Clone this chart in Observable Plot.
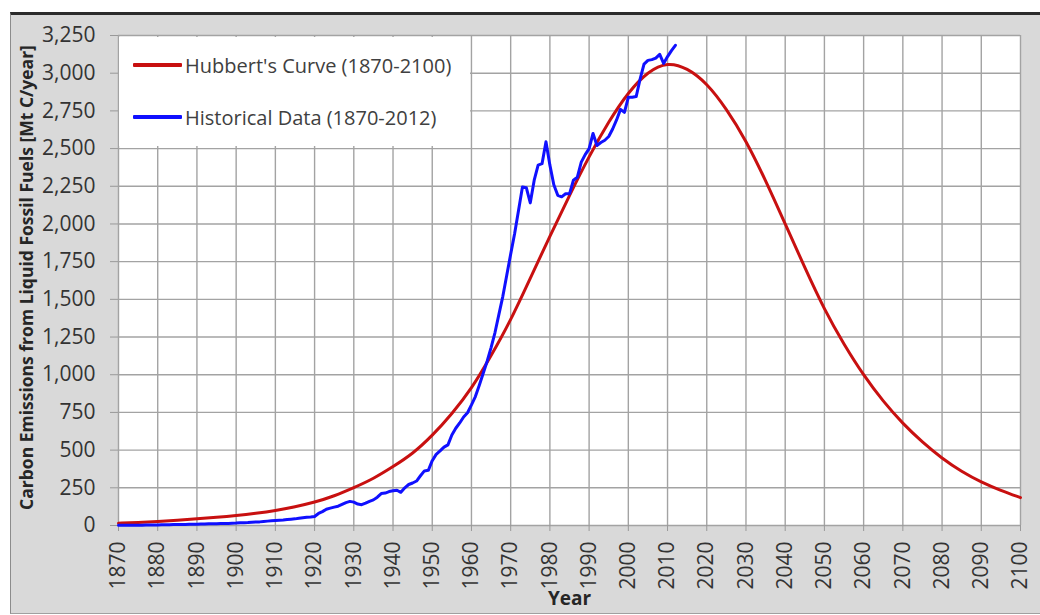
<!DOCTYPE html>
<html><head><meta charset="utf-8">
<script src="https://cdn.jsdelivr.net/npm/d3@7"></script>
<script src="https://cdn.jsdelivr.net/npm/@observablehq/plot@0.6"></script>
<style>
body{margin:0;background:#fff;width:1040px;height:615px;overflow:hidden;position:relative;font-family:"Open Sans",sans-serif;}
#frame{position:absolute;left:10px;top:12px;width:1030px;height:602px;background:#d9d9d9;border-top:3px solid #2b2b2b;border-left:1px solid #8c8c8c;border-bottom:1px solid #a0a0a0;box-sizing:border-box;}
#chart{position:absolute;left:0;top:0;}
#legend{position:absolute;left:119px;top:37px;width:351px;height:109px;background:#fff;}
.item{position:absolute;left:14px;height:24px;display:flex;align-items:center;font-size:20px;color:#404040;white-space:nowrap;}
.sw{width:49px;height:3.5px;margin-right:3px;border-radius:1px;}
</style></head><body>
<div id="frame"></div>
<div id="chart"></div>
<div id="legend">
  <div class="item" style="top:16px"><span class="sw" style="background:#c81010"></span><span id="l1"></span></div>
  <div class="item" style="top:68px"><span class="sw" style="background:#1010ff"></span><span id="l2"></span></div>
</div>
<script>
const seriesNames = ["Hubbert's Curve (1870-2100)", "Historical Data (1870-2012)"];
const xTicks = [1870,1880,1890,1900,1910,1920,1930,1940,1950,1960,1970,1980,1990,2000,2010,2020,2030,2040,2050,2060,2070,2080,2090,2100];
const yTicks = [0,250,500,750,1000,1250,1500,1750,2000,2250,2500,2750,3000,3250];
const yLabel = "Carbon Emissions from Liquid Fossil Fuels [Mt C/year]";
const xLabel = "Year";

const hubbertYears = [1870,1875,1880,1885,1890,1895,1900,1905,1910,1915,1920,1925,1930,1935,1940,1945,1950,1955,1960,1965,1970,1975,1980,1985,1990,1995,2000,2005,2010,2015,2020,2025,2030,2035,2040,2045,2050,2055,2060,2065,2070,2075,2080,2085,2090,2095,2100];
const hubbertValues = [15,20,26,34,44,54,66,81,99,124,154,195,250,310,390,475,595,740,905,1125,1360,1640,1920,2190,2450,2680,2875,3012,3075,3035,2935,2765,2555,2290,2000,1710,1430,1200,995,822,675,552,445,357,287,232,185];

const histStart = 1870;
const histValues = [
  1,1,1,2,2,2,2,3,3,4,
  4,5,5,5,6,6,7,7,8,8,
  9,10,10,11,11,12,13,14,14,15,
  16,18,19,20,22,23,24,27,29,31,
  33,35,37,40,42,44,48,52,55,57,
  60,80,92,108,115,122,128,140,152,160,
  155,142,138,148,160,170,188,212,215,225,
  230,234,220,250,272,282,295,330,362,366,
  430,472,495,520,535,600,645,680,720,748,
  800,855,930,1010,1090,1180,1280,1400,1520,1660,
  1800,1935,2090,2245,2240,2140,2290,2390,2400,2545,
  2390,2260,2190,2180,2200,2200,2290,2310,2410,2460,
  2500,2600,2520,2540,2555,2580,2630,2690,2760,2740,
  2840,2840,2845,2960,3060,3085,3090,3100,3125,3065,
  3110,3150,3185
];

document.getElementById("l1").textContent = seriesNames[0];
document.getElementById("l2").textContent = seriesNames[1];

const hubbert = hubbertYears.map((y,i)=>({year:y, value:hubbertValues[i]}));
const hist = histValues.map((v,i)=>({year:histStart+i, value:v}));

const gridStyle = {stroke:"#a3a3a3", strokeOpacity:1, strokeWidth:1.4};
const chart = Plot.plot({
  width:1040, height:615,
  marginLeft:118, marginRight:20, marginTop:35, marginBottom:90,
  style:{background:"transparent", color:"#333", fontFamily:"'Open Sans', sans-serif", fontSize:"21px"},
  x:{domain:[1870,2100]},
  y:{domain:[0,3250]},
  marks:[
    Plot.frame({fill:"white", stroke:"none"}),
    Plot.gridX(xTicks, gridStyle),
    Plot.gridY(yTicks, gridStyle),
    Plot.axisX(xTicks, {tickSize:6, tickPadding:10, tickRotate:-90, tickFormat:d=>String(d), label:null, stroke:"#999", fontSize:21, fill:"#333"}),
    Plot.axisY(yTicks, {tickSize:8, tickPadding:15, tickFormat:d3.format(","), label:null, stroke:"#999", fontSize:21, fill:"#333"}),
    Plot.line(hubbert, {x:"year", y:"value", stroke:"#c81010", strokeWidth:3, curve:"basis"}),
    Plot.line(hist, {x:"year", y:"value", stroke:"#1010ff", strokeWidth:3, strokeLinejoin:"round"}),
    Plot.text([yLabel], {text:d=>d, frameAnchor:"left", textAnchor:"middle", dx:-91, dy:-3, rotate:-90, fontWeight:"bold", fontSize:17.5, fill:"#262626"}),
    Plot.text([xLabel], {text:d=>d, frameAnchor:"bottom", textAnchor:"middle", dy:79, fontWeight:"bold", fontSize:19, fill:"#262626"})
  ]
});
document.getElementById("chart").appendChild(chart);
</script>
</body></html>
